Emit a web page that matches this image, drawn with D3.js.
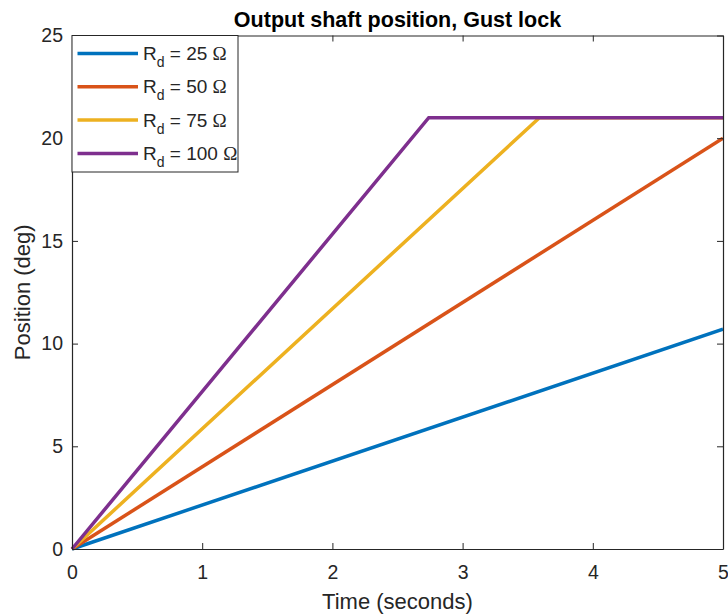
<!DOCTYPE html>
<html>
<head>
<meta charset="utf-8">
<script src="https://cdn.jsdelivr.net/npm/d3@7"></script>
<style>
  html, body { margin: 0; padding: 0; background: #fff; }
  svg { display: block; font-family: Arial, "Liberation Sans", Helvetica, sans-serif; }
</style>
</head>
<body>
<svg id="chart" width="728" height="614"></svg>
<script>
// Damping resistances and line colours
const resistances = [25, 50, 75, 100];
const colors = ["#0072BD", "#D95319", "#EDB120", "#7E2F8E"];

// Breakpoints of each response: time (s) and output shaft position (deg)
const timeR25 = [0, 5];
const posR25 = [0, 10.7];
const timeR50 = [0, 5];
const posR50 = [0, 20.0];
const timeR75 = [0, 3.59, 5];
const posR75 = [0, 21, 21];
const timeR100 = [0, 2.74, 5];
const posR100 = [0, 21, 21];

const xTicks = [0, 1, 2, 3, 4, 5];
const yTicks = [0, 5, 10, 15, 20, 25];

const series = [
  { r: resistances[0], t: timeR25, p: posR25, color: colors[0] },
  { r: resistances[1], t: timeR50, p: posR50, color: colors[1] },
  { r: resistances[2], t: timeR75, p: posR75, color: colors[2] },
  { r: resistances[3], t: timeR100, p: posR100, color: colors[3] }
];

const margin = { left: 72, right: 5, top: 35.5, bottom: 65 };
const W = 728, H = 614;
const svg = d3.select("#chart");
const axisColor = "#262626";

const x = d3.scaleLinear().domain([0, 5]).range([margin.left, W - margin.right]);
const y = d3.scaleLinear().domain([0, 25]).range([H - margin.bottom, margin.top]);

svg.append("clipPath").attr("id", "plotclip")
  .append("rect")
  .attr("x", x(0) - 2).attr("y", y(25))
  .attr("width", x(5) - x(0) + 2).attr("height", y(0) - y(25) + 2);

// Data lines
const line = d3.line().x(d => x(d[0])).y(d => y(d[1]));
svg.append("g").attr("clip-path", "url(#plotclip)")
  .selectAll("path").data(series).join("path")
  .attr("d", s => line(s.t.map((t, i) => [t, s.p[i]])))
  .attr("fill", "none")
  .attr("stroke", s => s.color)
  .attr("stroke-width", 3.5)
  .attr("stroke-linejoin", "miter");

// Axes with inward ticks on all four sides
const tickLen = 6;
const axBottom = svg.append("g").attr("transform", `translate(0,${y(0)})`)
  .call(d3.axisBottom(x).tickValues(xTicks).tickFormat(d3.format("d")).tickSizeInner(-tickLen).tickSizeOuter(0).tickPadding(16));
const axTop = svg.append("g").attr("transform", `translate(0,${y(25)})`)
  .call(d3.axisTop(x).tickValues(xTicks).tickFormat("").tickSizeInner(-tickLen).tickSizeOuter(0));
const axLeft = svg.append("g").attr("transform", `translate(${x(0)},0)`)
  .call(d3.axisLeft(y).tickValues(yTicks).tickFormat(d3.format("d")).tickSizeInner(-tickLen).tickSizeOuter(0).tickPadding(9));
const axRight = svg.append("g").attr("transform", `translate(${x(5)},0)`)
  .call(d3.axisRight(y).tickValues(yTicks).tickFormat("").tickSizeInner(-tickLen).tickSizeOuter(0));

[axBottom, axTop, axLeft, axRight].forEach(g => {
  g.select(".domain").attr("stroke", axisColor).attr("stroke-width", 1.2);
  g.selectAll(".tick line").attr("stroke", axisColor).attr("stroke-width", 1);
  g.selectAll(".tick text").attr("fill", axisColor).attr("font-size", 19.5)
    .attr("font-family", "Arial, 'Liberation Sans', sans-serif");
});

// Title and axis labels
svg.append("text")
  .attr("x", (x(0) + x(5)) / 2).attr("y", 27)
  .attr("text-anchor", "middle").attr("font-size", 21.5).attr("font-weight", "bold")
  .attr("fill", "#000")
  .text("Output shaft position, Gust lock");

svg.append("text")
  .attr("x", (x(0) + x(5)) / 2).attr("y", 609)
  .attr("text-anchor", "middle").attr("font-size", 22).attr("fill", axisColor)
  .text("Time (seconds)");

svg.append("text")
  .attr("transform", `translate(30,${(y(0) + y(25)) / 2}) rotate(-90)`)
  .attr("text-anchor", "middle").attr("font-size", 22).attr("fill", axisColor)
  .text("Position (deg)");

// Legend
const legend = svg.append("g");
legend.append("rect")
  .attr("x", x(0)).attr("y", y(25))
  .attr("width", 166).attr("height", 136.5)
  .attr("fill", "#fff").attr("stroke", axisColor).attr("stroke-width", 1);

const entry = legend.selectAll("g.entry").data(series).join("g")
  .attr("class", "entry")
  .attr("transform", (d, i) => `translate(${x(0)},${y(25) + 18 + i * 33.3})`);
entry.append("line")
  .attr("x1", 5.5).attr("x2", 66).attr("y1", 0).attr("y2", 0)
  .attr("stroke", d => d.color).attr("stroke-width", 3.5);
const label = entry.append("text")
  .attr("x", 71).attr("y", 6.5)
  .attr("font-size", 19).attr("fill", axisColor);
label.append("tspan").text("R");
label.append("tspan").attr("dy", 7).attr("font-size", 14).text("d");
label.append("tspan").attr("dy", -7).text(d => ` = ${d.r} `);
label.append("tspan")
  .attr("font-family", "'Liberation Serif', 'DejaVu Serif', serif")
  .text("Ω");
</script>
</body>
</html>
